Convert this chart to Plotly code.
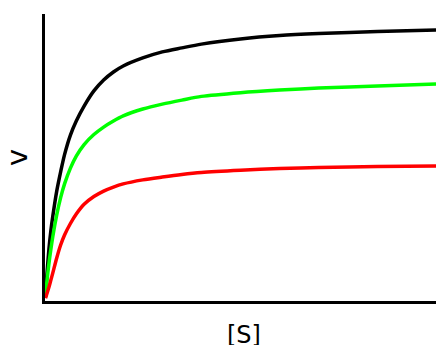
import plotly.graph_objects as go

# substrate concentration [S] (arbitrary units)
s_conc = [0.013, 0.05, 0.1, 0.15, 0.2, 0.3, 0.4, 0.5, 0.65, 0.8, 1.0, 1.25,
          1.5, 1.75, 2.0, 2.5, 3.0, 3.5, 4.0, 5.0, 6.0, 7.0, 8.5, 10.0]

# reaction rate v for three enzyme levels
v_high = [0.014, 0.095, 0.180, 0.245, 0.296, 0.383, 0.450, 0.510, 0.578,
          0.627, 0.679, 0.732, 0.770, 0.798, 0.819, 0.847, 0.868, 0.882,
          0.895, 0.913, 0.925, 0.932, 0.939, 0.944]
v_mid = [0.014, 0.070, 0.130, 0.180, 0.225, 0.300, 0.360, 0.408, 0.463,
         0.505, 0.545, 0.580, 0.606, 0.627, 0.645, 0.669, 0.686, 0.700,
         0.713, 0.726, 0.735, 0.742, 0.749, 0.756]
v_low = [0.010, 0.026, 0.048, 0.073, 0.098, 0.150, 0.195, 0.230, 0.270,
         0.303, 0.337, 0.364, 0.383, 0.397, 0.408, 0.422, 0.432, 0.441,
         0.448, 0.456, 0.462, 0.465, 0.469, 0.470]

series = [("high", v_high, "#000000"),
          ("mid", v_mid, "#00ff00"),
          ("low", v_low, "#ff0000")]

fig = go.Figure()
for name, vals, col in series:
    fig.add_trace(go.Scatter(x=s_conc, y=vals, name=name, mode="lines",
                             line=dict(color=col, width=3.5, shape="spline",
                                       smoothing=0.8)))

fig.update_layout(
    width=436, height=345,
    margin=dict(l=45, r=0, t=14, b=44),
    plot_bgcolor="white", paper_bgcolor="white",
    showlegend=False,
    font=dict(family="DejaVu Sans", color="black", size=24),
)
fig.update_xaxes(range=[0, 10], showline=True, linecolor="black", linewidth=2.5,
                 showgrid=False, zeroline=False, showticklabels=False, ticks="",
                 automargin=False)
fig.update_yaxes(range=[0, 1], showline=True, linecolor="black", linewidth=2.5,
                 showgrid=False, zeroline=False, showticklabels=False, ticks="",
                 title=dict(text="v", standoff=15), automargin=False)

# x title as an annotation so it can sit lower than the axis title allows
fig.add_annotation(text="[S]", xref="paper", yref="paper", x=0.51, y=0,
                   yanchor="middle", yshift=-34, showarrow=False,
                   font=dict(size=24))

# drop the browser's default body margin so the figure sits at the top-left
fig.write_html("out.html", config={"displayModeBar": False},
               post_script="document.body.style.margin='0';")
